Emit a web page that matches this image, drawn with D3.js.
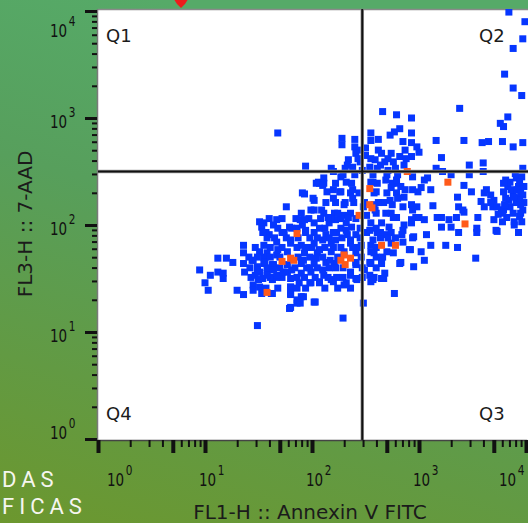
<!DOCTYPE html>
<html>
<head>
<meta charset="utf-8">
<script src="https://cdn.jsdelivr.net/npm/d3@7"></script>
<style>
  html, body { margin: 0; padding: 0; overflow: hidden; background: #5e9f4c; }
  svg { display: block; }
</style>
</head>
<body>
<svg id="chart"></svg>
<script>
const width = 528;
const height = 523;

// events as [log10 FL1-H (Annexin V FITC), log10 FL3-H (7-AAD)]
const bluePoints = [
  [3.84,3.99],[3.99,3.90],[3.97,3.74],[3.88,3.65],[3.80,3.41],[3.88,3.28],[3.96,3.21],[3.38,3.09],[3.83,3.01],[3.76,2.95],
  [3.79,2.92],[2.66,3.06],[2.79,3.03],[2.93,3.00],[1.68,2.86],[2.28,2.81],[2.28,2.75],[2.55,2.86],[2.55,2.79],[2.73,2.84],
  [2.77,2.87],[2.82,2.90],[2.85,2.78],[2.93,2.86],[2.93,2.77],[2.98,2.73],[3.00,2.68],[3.16,2.79],[3.21,2.63],[3.42,2.79],
  [3.59,2.77],[3.65,2.78],[3.78,2.78],[3.88,2.73],[3.97,2.77],[3.47,2.56],[3.60,2.58],[3.60,2.50],[3.97,2.53],[3.16,2.53],
  [3.22,2.50],[1.94,2.55],[2.18,2.53],
  [2.40,2.73],[2.41,2.67],[2.50,2.72],[2.50,2.65],[2.59,2.61],[2.65,2.67],[2.68,2.59],[2.74,2.67],[2.76,2.59],[2.82,2.64],
  [2.93,2.64],[2.38,2.54],[2.54,2.54],[2.71,2.51],[2.45,2.59],[2.34,2.61],[2.61,2.53],[2.80,2.47],[2.94,2.45],[2.78,2.53],
  [2.47,2.51],[2.31,2.53],[2.27,2.45],[2.20,2.50],[2.11,2.44],[2.06,2.40],
  [2.45,2.70],[2.62,2.70],[2.87,2.70],[2.43,2.62],[2.55,2.62],[2.71,2.62],[2.88,2.62],[2.33,2.56],[2.64,2.56],[2.86,2.56],
  [2.40,2.80],[2.62,2.80],[2.29,2.47],[2.40,2.47],[2.57,2.47],[2.70,2.47],
  [3.08,2.44],[3.30,2.47],[3.47,2.47],[3.42,2.37],[3.49,2.31],[3.02,2.35],[2.99,2.31],[3.11,2.33],[3.36,2.26],[3.13,2.18],
  [3.37,2.17],[3.41,2.14],[3.63,2.33],[3.67,2.28],[3.58,2.22],[3.61,2.17],[3.70,2.23],[3.69,2.17],[3.77,2.14],[3.81,2.42],
  [3.91,2.44],[3.96,2.45],[3.83,2.36],[3.93,2.36],[3.98,2.36],[3.79,2.31],[3.88,2.28],[3.97,2.28],[3.84,2.23],[3.91,2.21],
  [3.98,2.21],[3.79,2.14],[3.88,2.11],[3.97,2.14],[3.89,2.03],[3.00,2.07],[3.21,2.07],[3.28,2.05],[3.35,2.07],[3.55,2.07],
  [3.70,2.05],[3.85,2.40],[3.94,2.40],[3.81,2.25],[3.94,2.25],[3.85,2.17],[3.94,2.08],[3.82,2.07],[3.74,2.10],
  [3.86,2.33],[3.92,2.33],[3.80,2.19],[3.95,2.19],[3.78,2.03],[3.96,2.03],[3.90,2.48],
  [3.05,2.42],[3.79,2.39],[3.61,2.30],[3.89,2.26],[3.95,2.30],[3.67,2.21],[3.73,2.17],[3.05,2.05],[3.17,2.07],[3.42,2.12],
  [3.78,2.11],[3.95,2.11],[3.21,1.98],[3.30,1.98],[3.54,1.97],[3.72,1.95],[3.89,2.00],[3.93,1.93],[3.07,1.91],[3.37,1.93],
  [3.54,1.93],[3.73,1.94],[3.11,1.81],[3.25,1.81],[3.36,1.79],[3.53,1.69],[2.91,1.77],[3.02,1.75],[2.83,1.65],[2.95,1.61],
  [3.05,1.67],
  [2.07,2.39],[2.11,2.39],[2.22,2.39],[2.32,2.40],[2.37,2.39],[2.55,2.40],[2.61,2.39],[2.75,2.39],[2.79,2.39],[2.83,2.36],
  [1.93,2.29],[2.14,2.31],[2.27,2.31],[2.36,2.30],[2.44,2.30],[2.58,2.30],[2.70,2.30],[2.79,2.30],[2.86,2.26],
  [1.76,2.17],[2.02,2.23],[2.13,2.21],[2.22,2.21],[2.30,2.19],[2.39,2.21],[2.49,2.21],[2.58,2.19],[2.67,2.21],[2.75,2.19],
  [2.93,2.19],[2.98,2.17],
  [1.67,2.05],[1.90,2.11],[2.02,2.14],[2.11,2.11],[2.21,2.11],[2.30,2.09],[2.36,2.11],[2.51,2.09],[2.60,2.11],[2.74,2.11],
  [2.79,2.07],[2.97,2.07],
  [1.55,2.02],[1.64,2.00],[1.79,1.98],[1.91,2.00],[2.02,2.02],[2.16,2.02],[2.22,2.05],[2.32,2.02],[2.37,1.98],[2.55,2.02],
  [2.65,2.02],[2.72,1.98],[2.86,2.00],[2.93,2.02],
  [1.60,1.91],[1.74,1.93],[1.94,1.93],[2.02,1.93],[2.13,1.91],[2.23,1.93],[2.33,1.91],[2.51,1.93],[2.61,1.93],[2.69,1.91],
  [2.84,1.91],[2.95,1.89],
  [1.55,1.81],[1.67,1.84],[1.80,1.83],[1.90,1.81],[2.02,1.83],[2.18,1.83],[2.36,1.83],[2.46,1.81],[2.55,1.81],[2.74,1.83],
  [1.58,1.74],[1.67,1.72],[1.77,1.75],[1.93,1.74],[2.05,1.74],[2.18,1.75],[2.30,1.75],[2.41,1.74],[2.58,1.74],[2.70,1.75],
  [1.55,1.64],[1.64,1.63],[1.90,1.64],[2.02,1.64],[2.13,1.65],[2.21,1.64],[2.41,1.63],[2.55,1.64],[2.65,1.67],
  [1.58,1.55],[1.67,1.51],[1.77,1.56],[1.90,1.55],[1.99,1.56],[2.11,1.53],[2.23,1.51],[2.36,1.53],[2.49,1.58],[2.58,1.51],
  [2.67,1.50],
  [1.63,1.49],[1.80,1.42],[1.88,1.46],[1.99,1.46],[2.07,1.46],[2.18,1.49],[2.30,1.44],[2.42,1.49],[2.55,1.47],
  [1.62,1.36],[1.80,1.35],[1.90,1.33],[2.02,1.28],[2.77,1.36],[1.79,1.22],[1.86,1.27],[2.48,1.27],[2.29,1.13],
  [1.60,2.06],[1.72,2.06],[1.85,2.06],[1.97,2.06],[2.08,2.06],[2.18,2.06],[2.27,2.06],[2.41,2.06],
  [1.68,1.97],[1.86,1.97],[2.12,1.97],[2.27,1.97],[2.45,1.97],[2.60,1.97],
  [1.65,1.88],[1.76,1.88],[1.87,1.88],[2.05,1.88],[2.16,1.88],[2.28,1.88],[2.45,1.88],[2.64,1.88],[2.78,1.88],
  [1.47,1.79],[1.61,1.79],[1.72,1.79],[1.86,1.79],[2.00,1.79],[2.12,1.79],[2.27,1.79],[2.44,1.79],[2.60,1.79],
  [1.41,1.70],[1.55,1.70],[1.70,1.70],[1.87,1.70],[1.98,1.70],[2.10,1.70],[2.24,1.70],[2.46,1.70],[2.60,1.70],
  [1.42,1.60],[1.58,1.60],[1.70,1.60],[1.84,1.60],[1.95,1.60],[2.05,1.60],[2.16,1.60],[2.29,1.60],[2.47,1.60],[2.60,1.60],
  [1.43,1.51],[1.61,1.51],[1.72,1.51],[1.93,1.51],[2.03,1.51],[2.15,1.51],[2.29,1.51],[2.47,1.51],
  [1.57,1.41],[1.68,1.41],[1.94,1.41],[2.12,1.41],[2.24,1.41],[2.36,1.41],
  [1.94,1.95],[2.07,1.97],[2.20,1.93],[2.32,1.95],[2.41,1.91],[1.98,1.88],[2.10,1.86],[2.22,1.86],[2.36,1.86],[1.94,1.79],
  [2.07,1.77],[2.20,1.79],[2.38,1.79],[1.92,1.67],[2.04,1.69],[2.17,1.67],[2.41,1.65],[1.98,1.60],[2.10,1.58],[2.22,1.60],
  [2.36,1.56],[2.41,1.50],[1.98,1.46],[2.07,1.47],[2.20,1.47],[2.32,1.46],[2.54,1.95],[2.64,1.93],[2.74,1.93],[2.85,1.95],
  [2.94,1.88],[2.57,1.86],[2.71,1.88],[2.85,1.84],[2.55,1.75],[2.66,1.70],[2.76,1.74],[2.92,1.77],[2.54,1.65],[2.65,1.64],
  [2.82,1.64],[2.54,1.53],[2.68,1.55],[2.65,1.50],[2.57,1.49],[2.03,1.28],[1.92,1.33],
  [1.53,1.98],[1.57,1.93],[1.58,1.88],[1.72,1.93],[1.81,1.97],[1.80,1.86],[1.36,1.81],[1.36,1.74],[1.12,1.69],[1.20,1.69],
  [1.26,1.65],[0.95,1.58],[1.05,1.53],[1.12,1.56],[1.17,1.55],[1.17,1.50],[1.36,1.64],[1.37,1.56],[1.44,1.67],[1.51,1.75],
  [1.68,1.77],[1.56,1.65],[1.63,1.63],[1.51,1.56],[1.58,1.53],[1.67,1.53],[1.73,1.56],[1.80,1.50],[1.86,1.51],[1.00,1.46],
  [1.03,1.39],[1.30,1.39],[1.36,1.35],[1.45,1.44],[1.45,1.39],[1.51,1.42],[1.53,1.36],[1.63,1.36],[1.80,1.42],[1.86,1.41],
  [1.80,1.36],[1.86,1.30],[1.80,1.23],[1.89,1.27],[1.49,1.06],[1.49,1.70],[1.61,1.70],[1.49,1.61],[1.64,1.58],[1.54,1.50],
  [1.47,1.53],[1.77,1.63],[1.81,1.58],
  [1.51,2.03],[1.54,1.93],[1.45,1.67],[1.49,1.58],[1.50,1.49],[1.91,2.30],[1.89,2.05],
  [2.04,2.39],[2.10,2.37],[2.20,2.33],[2.26,2.31],[2.38,2.33],[2.01,2.25],[2.20,2.25],[2.31,2.21],[2.38,2.25],[1.99,2.14],
  [2.09,2.14],[2.15,2.07],[2.24,2.11],[2.34,2.07],[1.93,2.05],[2.57,2.40],[2.60,2.31],[2.69,2.42],[2.74,2.35],[2.79,2.42],
  [2.87,2.33],[2.94,2.33],[2.62,2.21],[2.73,2.23],[2.80,2.25],[2.85,2.17],[2.94,2.14],[2.59,2.14],[2.69,2.11],[2.76,2.07],
  [2.93,2.05],[2.48,2.17]
];

const orangePoints = [
  [2.89,2.50],[3.27,2.40],[3.43,2.01],[1.86,1.92],[2.54,2.34],[2.54,2.19],[2.56,2.16],[2.44,2.09],[2.65,1.81],
  [2.78,1.81],[1.72,1.66],[1.80,1.69],[1.83,1.67],[2.27,1.67],[2.30,1.72],[2.36,1.69],[2.31,1.63],[1.58,1.37]
];

// quadrant gate thresholds (linear units)
const gateFL1 = 295;
const gateFL3 = 316;

const decades = [1, 10, 100, 1000, 10000];
const exponents = ["0", "1", "2", "3", "4"];
const quadrantNames = ["Q1", "Q2", "Q3", "Q4"];
const xTitle = "FL1-H :: Annexin V FITC";
const yTitle = "FL3-H :: 7-AAD";

const plot = { left: 98, right: 528, top: 9, bottom: 440 };

const x = d3.scaleLog().domain([1, 10000]).range([98, 526]);
const y = d3.scaleLog().domain([1, 10000]).range([439, 11]);

const svg = d3.select("#chart")
  .attr("width", width)
  .attr("height", height);

// green backdrop
const defs = svg.append("defs");
const bg = defs.append("linearGradient")
  .attr("id", "bg")
  .attr("x1", 0.3).attr("y1", 0)
  .attr("x2", 0).attr("y2", 1);
bg.append("stop").attr("offset", 0).attr("stop-color", "#56aa68");
bg.append("stop").attr("offset", 0.35).attr("stop-color", "#579f5c");
bg.append("stop").attr("offset", 0.7).attr("stop-color", "#629a43");
bg.append("stop").attr("offset", 1).attr("stop-color", "#6c972e");

svg.append("rect")
  .attr("width", width).attr("height", height)
  .attr("fill", "url(#bg)");

defs.append("clipPath").attr("id", "plotClip")
  .append("rect")
  .attr("x", plot.left).attr("y", plot.top)
  .attr("width", plot.right - plot.left).attr("height", plot.bottom - plot.top);

// plot frame
svg.append("rect")
  .attr("x", plot.left).attr("y", plot.top)
  .attr("width", plot.right - plot.left + 10).attr("height", plot.bottom - plot.top)
  .attr("fill", "#fff");
svg.append("line")
  .attr("x1", plot.left).attr("x2", width).attr("y1", plot.top + 0.5).attr("y2", plot.top + 0.5)
  .attr("stroke", "#8a8a8a").attr("stroke-width", 1.5);
svg.append("line")
  .attr("x1", plot.left - 0.5).attr("x2", plot.left - 0.5).attr("y1", plot.top).attr("y2", plot.bottom)
  .attr("stroke", "#7a7a7a").attr("stroke-width", 1.5);

// events
const dots = svg.append("g").attr("clip-path", "url(#plotClip)");
const size = 7;

dots.selectAll("rect.blue")
  .data(bluePoints)
  .enter().append("rect")
  .attr("class", "blue")
  .attr("x", d => x(10 ** d[0]) - size / 2)
  .attr("y", d => y(10 ** d[1]) - size / 2)
  .attr("width", size).attr("height", size)
  .attr("fill", "#0636ff");

dots.selectAll("rect.orange")
  .data(orangePoints)
  .enter().append("rect")
  .attr("class", "orange")
  .attr("x", d => x(10 ** d[0]) - size / 2)
  .attr("y", d => y(10 ** d[1]) - size / 2)
  .attr("width", size).attr("height", size)
  .attr("fill", "#ff5a1a");

// quadrant gates
const gates = svg.append("g").attr("clip-path", "url(#plotClip)");
[["#9a9a9a", 3.5], ["#111", 2]].forEach(([c, w]) => {
  gates.append("line")
    .attr("x1", x(gateFL1)).attr("x2", x(gateFL1))
    .attr("y1", plot.top).attr("y2", plot.bottom)
    .attr("stroke", c).attr("stroke-width", w);
  gates.append("line")
    .attr("x1", plot.left).attr("x2", plot.right)
    .attr("y1", y(gateFL3)).attr("y2", y(gateFL3))
    .attr("stroke", c).attr("stroke-width", w);
});

// quadrant labels
const qPos = {
  Q1: [plot.left + 8, 42], Q2: [plot.right - 49, 42],
  Q3: [plot.right - 49, 420], Q4: [plot.left + 8, 420]
};
svg.selectAll("text.quad")
  .data(quadrantNames)
  .enter().append("text")
  .attr("class", "quad")
  .attr("x", d => qPos[d][0])
  .attr("y", d => qPos[d][1])
  .attr("font-family", "DejaVu Sans, sans-serif")
  .attr("font-size", 18)
  .attr("fill", "#1b1b1b")
  .text(d => d);

// tick values: 1..9 per decade
const tickVals = [];
decades.slice(0, 4).forEach(d => {
  for (let k = 1; k <= 9; k++) tickVals.push(d * k);
});
tickVals.push(10000);
const mantissa = d => Math.round(d / 10 ** Math.floor(Math.log10(d) + 1e-9));

const xAxis = svg.append("g")
  .attr("transform", `translate(0,${plot.bottom})`)
  .call(d3.axisBottom(x).tickValues(tickVals).tickSize(7).tickFormat(""));
xAxis.select(".domain").attr("stroke", "#444").attr("stroke-width", 1.5);
xAxis.selectAll(".tick line")
  .attr("stroke", "#111")
  .attr("stroke-width", d => (mantissa(d) === 1 || mantissa(d) === 5) ? 4 : 2)
  .attr("y2", d => (mantissa(d) === 1 || mantissa(d) === 5) ? 13 : 7);

const yAxis = svg.append("g")
  .attr("transform", `translate(${plot.left - 1},0)`)
  .call(d3.axisLeft(y).tickValues(tickVals).tickSize(5).tickFormat(""));
yAxis.select(".domain").remove();
yAxis.selectAll(".tick line")
  .attr("stroke", "#111")
  .attr("stroke-width", d => decades.includes(d) ? 3 : 2)
  .attr("x2", d => decades.includes(d) ? -12 : -5);

// tick labels: 10 with superscript exponent, narrow as in the source
const labelFont = "DejaVu Sans, sans-serif";
function powerLabel(g, tx, ty, exp) {
  const t = g.append("text")
    .attr("transform", `translate(${tx},${ty}) scale(0.75,1)`)
    .attr("font-family", labelFont)
    .attr("fill", "#111");
  t.append("tspan").attr("font-size", 18).text("10");
  t.append("tspan").attr("font-size", 14).attr("dx", 2).attr("dy", -11).text(exp);
}

const xLab = svg.append("g");
decades.forEach((d, i) => {
  const sx = Math.max(107, Math.min(499, x(d) - 6));
  powerLabel(xLab, sx, 486, exponents[i]);
});

const yLab = svg.append("g");
decades.forEach((d, i) => {
  const by = Math.max(37, Math.min(439, y(d) + 10));
  powerLabel(yLab, 50, by, exponents[i]);
});

// axis titles
svg.append("text")
  .attr("x", 310).attr("y", 519)
  .attr("text-anchor", "middle")
  .attr("font-family", labelFont).attr("font-size", 20)
  .attr("fill", "#1b1b1b")
  .text(xTitle);

svg.append("text")
  .attr("transform", "translate(32,224) rotate(-90)")
  .attr("text-anchor", "middle")
  .attr("font-family", labelFont).attr("font-size", 20)
  .attr("fill", "#1b1b1b")
  .text(yTitle);

// red marker at the top edge
svg.append("path")
  .attr("d", "M174,-1 L188,-1 Q186,4 181,8 Q176,4 174,-1 Z")
  .attr("fill", "#ee1c1c");

// white overlay words at bottom left
svg.append("text")
  .attr("x", 2).attr("y", 487)
  .attr("font-family", "Roboto, sans-serif").attr("font-size", 22)
  .attr("letter-spacing", 5)
  .attr("fill", "#f6f6f0")
  .text("DAS");
svg.append("text")
  .attr("x", 2).attr("y", 514)
  .attr("font-family", "Roboto, sans-serif").attr("font-size", 22)
  .attr("letter-spacing", 5)
  .attr("fill", "#f6f6f0")
  .text("FICAS");
</script>
</body>
</html>
